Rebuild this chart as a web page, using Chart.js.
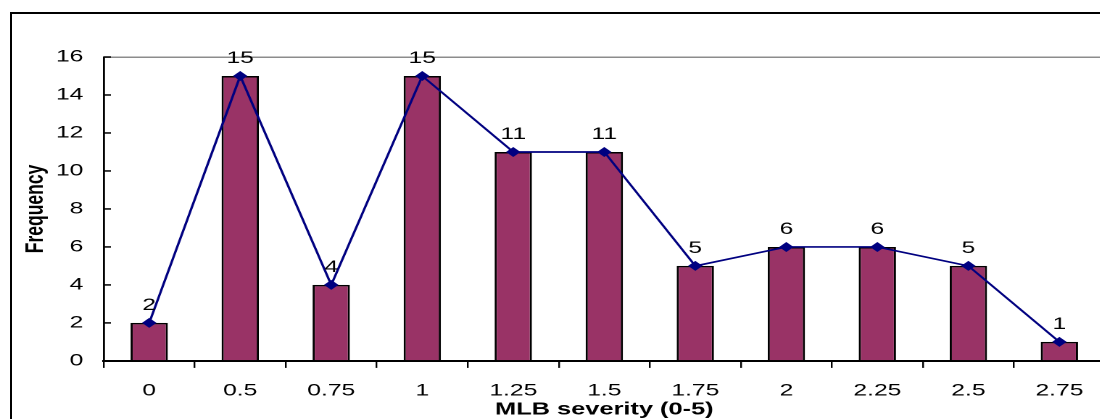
<!DOCTYPE html>
<html>
<head>
<meta charset="utf-8">
<title>MLB severity</title>
<script src="https://cdn.jsdelivr.net/npm/chart.js@4"></script>
<style>
  html, body { margin: 0; padding: 0; background: #fff; overflow: hidden; }
  #wrap { position: relative; width: 1100px; height: 419px; overflow: hidden; background: #fff; }
  #frame { position: absolute; left: 10px; top: 12px; width: 1200px; height: 500px;
           border-left: 2px solid #000; border-top: 2px solid #000; }
  /* the original picture is stretched sideways, so the chart is too */
  #chart { position: absolute; left: 0; top: 0; width: 770px; height: 419px;
           transform: scaleX(1.45); transform-origin: 0 0; }
</style>
</head>
<body>
<div id="wrap">
  <div id="frame"></div>
  <canvas id="chart" width="770" height="419"></canvas>
</div>
<script>
const severity = ['0', '0.5', '0.75', '1', '1.25', '1.5', '1.75', '2', '2.25', '2.5', '2.75'];
const frequency = [2, 15, 4, 15, 11, 11, 5, 6, 6, 5, 1];
const yTicks = [0, 2, 4, 6, 8, 10, 12, 14, 16];

const FONT = "'Liberation Sans', Arial, sans-serif";

// numbers above the line points
const valueLabels = {
  id: 'valueLabels',
  afterDatasetsDraw(chart) {
    const ctx = chart.ctx;
    const meta = chart.getDatasetMeta(0);
    ctx.save();
    ctx.fillStyle = '#000';
    ctx.font = '17px ' + FONT;
    ctx.textAlign = 'center';
    ctx.textBaseline = 'alphabetic';
    meta.data.forEach(function (pt, i) {
      ctx.fillText(String(frequency[i]), pt.x, pt.y - 13);
    });
    ctx.restore();
  }
};

// y ticks point into the plot
const innerTicks = {
  id: 'innerTicks',
  afterDraw(chart) {
    const ctx = chart.ctx;
    const y = chart.scales.y;
    const x0 = chart.chartArea.left;
    ctx.save();
    ctx.strokeStyle = '#000';
    ctx.lineWidth = 1.5;
    yTicks.forEach(function (v) {
      const py = y.getPixelForValue(v);
      ctx.beginPath();
      ctx.moveTo(x0, py);
      ctx.lineTo(x0 + 5, py);
      ctx.stroke();
    });
    ctx.restore();
  }
};

new Chart(document.getElementById('chart'), {
  data: {
    labels: severity,
    datasets: [
      {
        type: 'line',
        data: frequency,
        borderColor: '#000080',
        borderWidth: 1.7,
        tension: 0,
        pointStyle: 'rectRot',
        pointRadius: 5,
        pointBackgroundColor: '#000080',
        pointBorderColor: '#000080',
        pointBorderWidth: 0,
        order: 0
      },
      {
        type: 'bar',
        data: frequency,
        backgroundColor: '#993366',
        borderColor: '#000',
        borderWidth: 1.5,
        barPercentage: 0.41,
        categoryPercentage: 1,
        order: 1
      }
    ]
  },
  options: {
    responsive: false,
    devicePixelRatio: 2,
    animation: false,
    layout: { padding: { left: 10, top: 57, right: 8, bottom: -7 } },
    plugins: {
      legend: { display: false },
      tooltip: { enabled: false }
    },
    scales: {
      x: {
        offset: true,
        grid: { offset: true, drawOnChartArea: false, drawTicks: true, tickLength: 7, color: '#000', lineWidth: 1.2 },
        border: { color: '#000', width: 2 },
        ticks: { color: '#000', font: { family: FONT, size: 17 }, padding: 12.5, maxRotation: 0, autoSkip: false },
        title: {
          display: true,
          text: 'MLB severity (0-5)',
          color: '#000',
          font: { family: FONT, size: 17.5, weight: 'bold' },
          padding: { top: -14.3, bottom: 6 }
        }
      },
      y: {
        min: 0,
        max: 16,
        ticks: { stepSize: 2, color: '#000', font: { family: FONT, size: 17 }, padding: 14 },
        grid: {
          drawTicks: false,
          lineWidth: 1.5,
          color: function (c) { return c.tick && c.tick.value === 16 ? '#8c8c8c' : 'rgba(0,0,0,0)'; }
        },
        border: { color: '#000', width: 1.4 },
        title: {
          display: true,
          text: 'Frequency',
          color: '#000',
          font: { family: FONT, size: 17.5, weight: 'bold' },
          padding: { top: 4.4, bottom: -10.8 }
        }
      }
    }
  },
  plugins: [valueLabels, innerTicks]
});
</script>
</body>
</html>
